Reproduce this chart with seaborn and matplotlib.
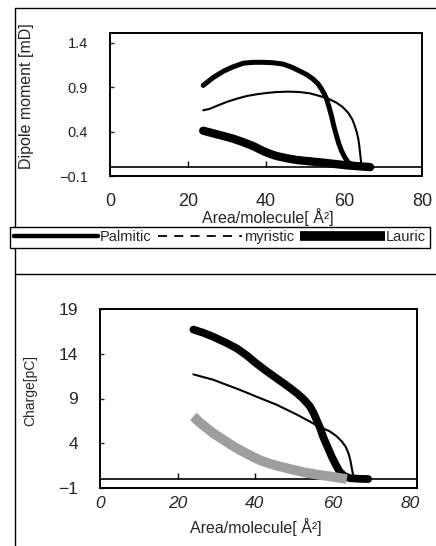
import matplotlib
matplotlib.use("Agg")
import matplotlib.pyplot as plt
import seaborn as sns
import pandas as pd
from matplotlib.lines import Line2D

# ---------------- data ----------------
series_names = ["Palmitic", "myristic", "Lauric"]
x_ticks = [0, 20, 40, 60, 80]

# Dipole moment panel
dip_ticks = [1.4, 0.9, 0.4, -0.1]
dip_x_palmitic = [23.9, 26.5, 29.1, 31.6, 34.2, 36.8, 39.3, 41.8, 44.4, 46.6, 48.7, 50.5, 52.1, 53.3, 54.3, 55.0,
                  55.6, 56.2, 56.8, 57.4, 58.1, 58.7, 59.4, 60.2, 61.1, 62.4, 64.0, 66.7]
dip_palmitic = [0.92, 1.01, 1.08, 1.13, 1.17, 1.18, 1.18, 1.175, 1.16, 1.125, 1.08, 1.04, 0.99, 0.94, 0.875, 0.82,
                0.76, 0.67, 0.575, 0.46, 0.35, 0.26, 0.18, 0.11, 0.05, 0.025, 0.01, 0.0]
dip_x_myristic = [23.9, 25.5, 27.4, 30.0, 32.5, 35.0, 37.6, 40.2, 42.7, 45.7, 48.7, 51.3, 53.8, 56.0, 58.1,
                  59.7, 61.1, 62.1, 62.8, 63.3, 63.7, 64.0, 64.3, 64.5]
dip_myristic = [0.64, 0.655, 0.69, 0.735, 0.77, 0.80, 0.82, 0.835, 0.845, 0.85, 0.845, 0.83, 0.80, 0.77, 0.725,
                0.675, 0.61, 0.54, 0.46, 0.39, 0.31, 0.21, 0.09, 0.01]
dip_x_lauric = [23.9, 26.5, 29.1, 31.6, 34.2, 36.8, 39.3, 41.0, 42.7, 45.3, 47.9, 51.3, 54.7, 57.7, 60.7, 63.7, 66.7]
dip_lauric = [0.41, 0.38, 0.35, 0.32, 0.28, 0.235, 0.18, 0.15, 0.125, 0.10, 0.08, 0.065, 0.05, 0.035, 0.02, 0.01, 0.0]

# Charge panel
chg_ticks = [19, 14, 9, 4, -1]
chg_x_palmitic = [24.1, 26.6, 29.2, 32.2, 35.3, 37.9, 40.4, 43.0, 45.6, 48.2, 50.8, 52.6, 54.2, 55.1, 55.9, 56.8,
                  57.6, 58.7, 59.8, 60.9, 61.9, 63.0, 64.5, 66.8, 69.2]
chg_palmitic = [16.7, 16.35, 15.9, 15.3, 14.6, 13.8, 12.9, 12.05, 11.25, 10.45, 9.6, 8.9, 8.1, 7.4, 6.6, 5.7,
                4.7, 3.6, 2.5, 1.55, 0.8, 0.35, 0.1, 0.03, 0.0]
chg_x_myristic = [24.1, 26.6, 29.2, 32.2, 35.3, 37.9, 40.4, 43.0, 45.6, 48.2, 50.8, 53.4, 55.9, 57.7, 59.4,
                  61.0, 62.4, 63.4, 64.1, 64.6, 64.9, 65.2, 65.4]
chg_myristic = [11.7, 11.4, 11.1, 10.6, 10.1, 9.65, 9.2, 8.75, 8.3, 7.75, 7.2, 6.6, 6.0, 5.65, 5.3, 4.8, 4.2,
                3.6, 2.9, 2.1, 1.4, 0.7, 0.2]
chg_x_lauric = [24.1, 25.8, 27.5, 29.6, 31.8, 33.9, 36.1, 38.7, 41.3, 43.9, 46.5, 49.9, 53.3, 56.3, 59.4, 61.5, 63.7]
chg_lauric = [7.0, 6.3, 5.7, 5.0, 4.4, 3.8, 3.25, 2.65, 2.1, 1.7, 1.4, 1.03, 0.7, 0.48, 0.3, 0.15, 0.0]

# ---------------- style ----------------
sns.set_theme(style="white")
plt.rcParams["font.family"] = ["Liberation Sans", "DejaVu Sans"]
plt.rcParams["axes.edgecolor"] = "black"
plt.rcParams["axes.linewidth"] = 1.3

W, H = 436, 546
fig = plt.figure(figsize=(W / 100, H / 100), dpi=100)
fig.patch.set_facecolor("white")


def rect(l, t, r, b):
    return [l / W, 1 - b / H, (r - l) / W, (b - t) / H]


def draw(ax, xs, ys, cap="round", **kw):
    df = pd.DataFrame({"x": xs, "y": ys})
    sns.lineplot(data=df, x="x", y="y", ax=ax, sort=False, estimator=None,
                 solid_capstyle=cap, solid_joinstyle="round", **kw)


def zero_line(ax, ticks):
    y0, y1 = ax.get_ylim()
    sec = ax.secondary_xaxis((0 - y0) / (y1 - y0))
    sec.set_xticks(ticks, labels=[""] * len(ticks))
    sec.tick_params(direction="in", length=4, width=1, color="black")
    sec.spines["bottom"].set_linewidth(1.2)
    sec.spines["bottom"].set_color("black")


# ---------- top panel : dipole moment ----------
ax1 = fig.add_axes(rect(110, 33, 422, 176))
draw(ax1, dip_x_palmitic, dip_palmitic, color="black", lw=3.6)
draw(ax1, dip_x_myristic, dip_myristic, color="black", lw=1.5)
draw(ax1, dip_x_lauric, dip_lauric, color="black", lw=6.0)
ax1.set_xlim(0, 80)
ax1.set_ylim(-0.1, 1.51)
ax1.set_yticks(dip_ticks, labels=[f"{v:.1f}".replace("-", "\u2212") for v in dip_ticks])
ax1.set_xticks(x_ticks, labels=[str(v) for v in x_ticks])
ax1.tick_params(axis="y", direction="in", length=3, width=1, pad=16, labelsize=10.5, left=True)
ax1.tick_params(axis="x", length=0, pad=12, labelsize=13)
ax1.set_xlabel("Area/molecule[ Å²]", fontsize=11.5)
ax1.xaxis.set_label_coords(0.506, -0.29)
ax1.xaxis.label.set_va("center")
ax1.set_ylabel("Dipole moment [mD]", fontsize=11.5)
ax1.yaxis.set_label_coords(-0.245, 0.56)
zero_line(ax1, [20, 40, 60])

# legend box
handles = [
    Line2D([], [], color="black", lw=3.2),
    Line2D([], [], color="black", lw=1.3, ls=(0, (5, 4))),
    Line2D([], [], color="black", lw=7.0, solid_capstyle="butt"),
]
leg = fig.legend(handles, series_names, loc="lower left",
                 bbox_to_anchor=(10 / W, 1 - 248 / H, 420 / W, 21 / H),
                 ncol=3, mode="expand", handlelength=5.8, handletextpad=0.1,
                 columnspacing=0.4, borderaxespad=0, borderpad=0.25,
                 fancybox=False, framealpha=1, edgecolor="black", fontsize=10.5)
leg.get_frame().set_linewidth(1.0)

# ---------- bottom panel : charge ----------
ax2 = fig.add_axes(rect(100, 309, 417, 488))
draw(ax2, chg_x_palmitic, chg_palmitic, color="black", lw=5.6)
draw(ax2, chg_x_myristic, chg_myristic, color="black", lw=1.5)
draw(ax2, chg_x_lauric, chg_lauric, cap="butt", color="#9e9e9e", lw=7.0)
ax2.set_xlim(0, 81.8)
ax2.set_ylim(-1, 19)
ax2.set_yticks(chg_ticks, labels=[str(v).replace("-", "\u2212") for v in chg_ticks])
ax2.set_xticks(x_ticks, labels=[str(v) for v in x_ticks])
for t in ax2.get_xticklabels():
    t.set_fontstyle("italic")
ax2.tick_params(axis="y", direction="in", length=3, width=1, pad=16, labelsize=12.5, left=True)
ax2.tick_params(axis="x", length=0, pad=6, labelsize=12.5)
ax2.set_xlabel("Area/molecule[ Å²]", fontsize=11.5)
ax2.xaxis.set_label_coords(0.49, -0.218)
ax2.xaxis.label.set_va("center")
ax2.set_ylabel("Charge[pC]", fontsize=10)
ax2.yaxis.set_label_coords(-0.199, 0.547)
zero_line(ax2, [20, 40, 60])

for ax in (ax1, ax2):
    ax.set_facecolor("white")
    for s in ax.spines.values():
        s.set_visible(True)
        s.set_color("black")
        s.set_linewidth(1.4)

# outer panel frames (decoration)
for xs, ys in [([15, 15], [8, 546]), ([15, 436], [8, 8]), ([15, 436], [274, 274])]:
    fig.add_artist(Line2D([x / W for x in xs], [1 - y / H for y in ys],
                          transform=fig.transFigure, color="black", lw=1.0))

fig.savefig("out.png", dpi=100, facecolor="white")
